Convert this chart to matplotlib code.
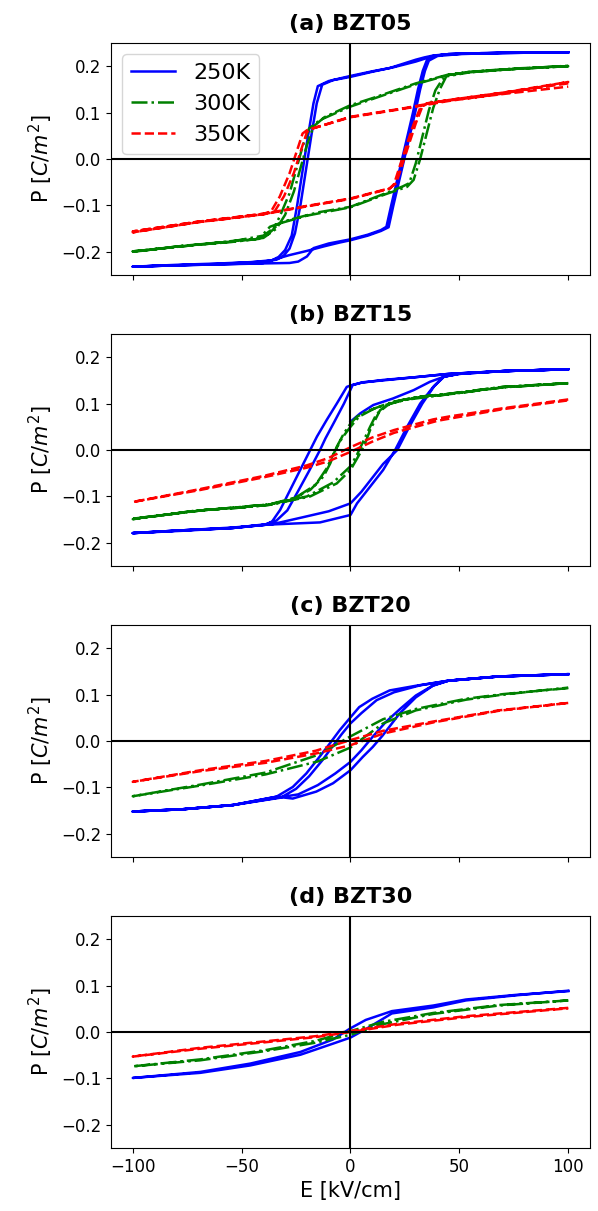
import matplotlib
matplotlib.use("Agg")
import matplotlib.pyplot as plt

# P-E hysteresis loops (E in kV/cm, P in C/m^2)
# each list runs the loop branch after branch (two cycles where they differ)

titles = ["(a) BZT05", "(b) BZT15", "(c) BZT20", "(d) BZT30"]
temps = ["250K", "300K", "350K"]

# ---- (a) BZT05 ----
E_a250 = [100, 80, 60, 45, 38, 34, 30, 22, 18, 10, 0, -10, -15, -17, -19.5, -22, -24.5, -27, -30, -33, -36, -45, -60, -80, -100,
          -80, -60, -40, -28, -24, -20, -17, -10, 0, 8, 14, 16.5, 18.7, 21.2, 23.7, 26.2, 28.7, 31, 33.2, 35, 38, 45, 60, 80, 100,
          80, 60, 45, 38, 30, 20, 10, 0, -8, -13, -15.5, -18, -20.5, -23, -25.5, -28, -31, -34, -40, -60, -80, -100,
          -80, -60, -40, -34, -28, -20, -12, -5, 0, 8, 14, 17.5, 19.7, 22.2, 24.7, 27.2, 29.7, 32, 34.2, 36, 40, 50, 70, 100]
P_a250 = [0.230, 0.229, 0.228, 0.226, 0.223, 0.219, 0.214, 0.202, 0.196, 0.189, 0.179, 0.168, 0.157, 0.12, 0.05, -0.025, -0.1, -0.165, -0.196, -0.211, -0.218, -0.222, -0.225, -0.228, -0.232,
          -0.229, -0.227, -0.225, -0.224, -0.221, -0.21, -0.192, -0.182, -0.173, -0.163, -0.153, -0.146, -0.1, -0.05, 0.0, 0.05, 0.1, 0.15, 0.19, 0.212, 0.222, 0.226, 0.228, 0.229, 0.23,
          0.229, 0.228, 0.226, 0.222, 0.21, 0.198, 0.188, 0.177, 0.17, 0.16, 0.12, 0.05, -0.025, -0.1, -0.16, -0.193, -0.21, -0.217, -0.221, -0.226, -0.229, -0.232,
          -0.229, -0.227, -0.224, -0.215, -0.207, -0.198, -0.188, -0.18, -0.175, -0.165, -0.155, -0.147, -0.1, -0.05, 0.0, 0.05, 0.1, 0.15, 0.19, 0.212, 0.222, 0.226, 0.229, 0.23]

E_a300 = [100, 75, 55, 45, 32, 13, 0, -14, -19, -22, -25, -28, -32.5, -35.5, -38, -42, -55, -77, -100,
          -77, -55, -42, -37, -28, -15, 0, 16, 24, 27, 30, 33, 36, 39, 42, 45, 55, 75, 100,
          75, 55, 45, 30, 10, 0, -12, -17, -20, -23, -26, -30, -34, -40, -55, -77, -100,
          -77, -55, -40, -32, -20, 0, 16, 26, 29, 32, 35, 38, 41, 44, 55, 75, 100]
P_a300 = [0.200, 0.194, 0.187, 0.181, 0.164, 0.134, 0.113, 0.084, 0.066, 0.027, -0.024, -0.074, -0.124, -0.152, -0.162, -0.172, -0.178, -0.187, -0.200,
          -0.187, -0.179, -0.172, -0.146, -0.131, -0.115, -0.103, -0.074, -0.059, -0.052, -0.009, 0.048, 0.105, 0.148, 0.17, 0.181, 0.188, 0.194, 0.2,
          0.195, 0.188, 0.182, 0.163, 0.131, 0.116, 0.09, 0.07, 0.03, -0.02, -0.07, -0.12, -0.15, -0.17, -0.177, -0.188, -0.199,
          -0.188, -0.178, -0.165, -0.138, -0.122, -0.104, -0.076, -0.06, -0.045, 0.0, 0.055, 0.11, 0.15, 0.178, 0.187, 0.194, 0.201]

E_a350 = [100, 70, 45, 24, 0, -20, -22, -25, -28, -32.5, -36.5, -40, -55, -70, -100,
          -70, -40, -20, 0, 18, 21, 24, 27, 30, 33, 35.5, 45, 70, 100,
          70, 45, 24, 0, -18, -20, -23, -26, -30.5, -35, -40, -55, -70, -100,
          -70, -40, -20, 0, 18, 20, 23, 26, 29, 32, 35, 45, 70, 100]
P_a350 = [0.163, 0.143, 0.127, 0.109, 0.091, 0.062, 0.055, 0.012, -0.031, -0.081, -0.113, -0.118, -0.127, -0.135, -0.156,
          -0.135, -0.118, -0.101, -0.085, -0.063, -0.052, -0.009, 0.034, 0.077, 0.113, 0.12, 0.127, 0.143, 0.166,
          0.141, 0.125, 0.108, 0.09, 0.065, 0.058, 0.015, -0.03, -0.08, -0.114, -0.119, -0.128, -0.136, -0.158,
          -0.136, -0.119, -0.102, -0.086, -0.064, -0.054, -0.01, 0.033, 0.075, 0.11, 0.12, 0.126, 0.14, 0.156]

# ---- (b) BZT15 ----
E_b250 = [0, 4.5, 10.5, 19.5, 29, 36.5, 43, 50, 70, 100,
          70, 45, 30, 15, 5.7, 0, -1.7, -6.3, -10.9, -15.4, -18.5, -23.1, -27.7, -32.3, -36, -39, -54, -77, -100,
          -77, -54, -39, -14, 0, 3, 9, 15, 20.5, 26, 32, 38, 42.7, 50, 70, 100,
          70, 45, 30, 15, 5, 1, -3, -7.5, -11.5, -14, -19, -24, -29, -34, -39, -54, -77, -100,
          -77, -54, -36, -22, -10, 0, 5, 10, 15, 21.5, 27, 33, 38.5, 43, 50, 70, 100]
P_b250 = [0.061, 0.079, 0.097, 0.111, 0.129, 0.147, 0.158, 0.164, 0.17, 0.174,
          0.17, 0.164, 0.157, 0.15, 0.146, 0.139, 0.136, 0.1, 0.065, 0.029, 0.0, -0.043, -0.086, -0.129, -0.154, -0.161, -0.168, -0.173, -0.179,
          -0.173, -0.168, -0.161, -0.156, -0.14, -0.115, -0.079, -0.043, 0.0, 0.05, 0.1, 0.136, 0.158, 0.164, 0.17, 0.174,
          0.17, 0.164, 0.157, 0.151, 0.145, 0.14, 0.1, 0.06, 0.025, 0.0, -0.045, -0.088, -0.13, -0.152, -0.16, -0.168, -0.174, -0.179,
          -0.173, -0.167, -0.16, -0.145, -0.132, -0.115, -0.09, -0.06, -0.03, 0.0, 0.05, 0.1, 0.138, 0.158, 0.165, 0.17, 0.174]

E_b300 = [100, 70, 45, 32, 24, 17, 9, 3, 0, -3, -6.3, -9.3, -12.4, -18.5, -27.7, -37, -50, -70, -100,
          -70, -50, -37, -18.5, -6.3, 0, 4.4, 6.7, 9, 13.6, 19.7, 32, 45, 70, 100,
          70, 45, 25, 12, 4, 0, -4, -8, -11, -16, -25, -37, -70, -100,
          -70, -37, -20, -8, 0, 3, 6, 9, 12, 18, 30, 45, 70, 100]
P_b300 = [0.144, 0.136, 0.121, 0.115, 0.108, 0.1, 0.086, 0.072, 0.057, 0.036, 0.007, -0.029, -0.057, -0.086, -0.108, -0.118, -0.124, -0.13, -0.149,
          -0.13, -0.124, -0.118, -0.1, -0.072, -0.043, -0.007, 0.014, 0.043, 0.086, 0.104, 0.115, 0.121, 0.136, 0.144,
          0.135, 0.12, 0.108, 0.092, 0.072, 0.05, 0.025, -0.01, -0.04, -0.075, -0.102, -0.117, -0.131, -0.148,
          -0.131, -0.117, -0.1, -0.07, -0.035, -0.01, 0.02, 0.05, 0.078, 0.1, 0.113, 0.12, 0.135, 0.144]

E_b350 = [100, 70, 45, 38, 20, 10, 0, -10, -20, -40, -70, -100,
          -70, -40, -20, -10, 0, 10, 20, 40, 70, 100]
P_b350 = [0.109, 0.09, 0.072, 0.066, 0.043, 0.027, 0.006, -0.017, -0.033, -0.056, -0.085, -0.112,
          -0.087, -0.059, -0.038, -0.024, -0.004, 0.018, 0.037, 0.063, 0.088, 0.107]

# ---- (c) BZT20 ----
E_c250 = [100, 68, 45, 30, 18, 10, 4, 0, -5, -9.6, -14.2, -20.3, -26.5, -34, -54, -77, -100,
          -77, -54, -34, -26.5, -15.7, -8, 0, 5.7, 10.2, 14.8, 22.5, 30, 37.8, 45, 68, 100,
          68, 45, 32, 20, 12, 5, 0, -4, -8, -13, -19, -25, -32, -54, -77, -100,
          -77, -54, -32, -24, -15, -7, 0, 5, 10, 16, 23, 30, 38, 45, 68, 100]
P_c250 = [0.144, 0.139, 0.13, 0.119, 0.109, 0.091, 0.073, 0.051, 0.023, -0.006, -0.034, -0.07, -0.099, -0.12, -0.138, -0.147, -0.152,
          -0.147, -0.138, -0.12, -0.124, -0.109, -0.091, -0.063, -0.034, -0.013, 0.012, 0.059, 0.094, 0.119, 0.13, 0.139, 0.144,
          0.139, 0.13, 0.12, 0.105, 0.088, 0.06, 0.038, 0.015, -0.01, -0.042, -0.076, -0.103, -0.122, -0.138, -0.147, -0.152,
          -0.147, -0.138, -0.121, -0.115, -0.095, -0.07, -0.045, -0.02, 0.008, 0.04, 0.07, 0.098, 0.12, 0.13, 0.139, 0.144]

E_c300 = [100, 70, 53, 30, 15, 0, -15, -39, -69, -100,
          -69, -39, -15, 0, 15, 30, 53, 70, 100]
P_c300 = [0.114, 0.101, 0.091, 0.069, 0.047, 0.01, -0.03, -0.068, -0.094, -0.119,
          -0.096, -0.072, -0.044, -0.014, 0.038, 0.066, 0.089, 0.1, 0.115]

E_c350 = [100, 68, 38, 15, 0, -16, -39, -69, -100,
          -69, -39, -16, 0, 15, 38, 68, 100]
P_c350 = [0.082, 0.066, 0.042, 0.022, 0.002, -0.021, -0.043, -0.063, -0.088,
          -0.065, -0.047, -0.027, -0.009, 0.016, 0.04, 0.065, 0.082]

# ---- (d) BZT30 ----
E_d250 = [100, 76, 53, 38, 19, 7, 0, -8, -23, -46, -69, -100,
          -69, -46, -23, -8, 0, 7, 19, 38, 53, 76, 100]
P_d250 = [0.088, 0.08, 0.07, 0.057, 0.045, 0.026, 0.008, -0.016, -0.043, -0.068, -0.086, -0.099,
          -0.088, -0.072, -0.049, -0.025, -0.012, 0.006, 0.04, 0.053, 0.068, 0.079, 0.089]

E_d300 = [100, 68, 38, 15, 0, -16, -39, -69, -100,
          -69, -39, -16, 0, 15, 38, 68, 100]
P_d300 = [0.068, 0.058, 0.041, 0.022, 0.002, -0.019, -0.039, -0.059, -0.074,
          -0.061, -0.041, -0.023, -0.006, 0.017, 0.039, 0.057, 0.068]

E_d350 = [100, 53, 22, 0, -16, -39, -69, -100,
          -69, -39, -16, 0, 22, 53, 100]
P_d350 = [0.052, 0.034, 0.018, 0.002, -0.009, -0.02, -0.034, -0.053,
          -0.036, -0.022, -0.011, 0.0, 0.016, 0.032, 0.051]

panels = [
    [(E_a250, P_a250), (E_a300, P_a300), (E_a350, P_a350)],
    [(E_b250, P_b250), (E_b300, P_b300), (E_b350, P_b350)],
    [(E_c250, P_c250), (E_c300, P_c300), (E_c350, P_c350)],
    [(E_d250, P_d250), (E_d300, P_d300), (E_d350, P_d350)],
]
colors = ["blue", "green", "red"]
styles = ["-", "-.", "--"]

fig, axes = plt.subplots(4, 1, sharex=True, figsize=(5.98, 12.11), dpi=100)
fig.subplots_adjust(left=0.1856, right=0.9866, top=0.9645, bottom=0.052, hspace=0.254)

for ax, curves, title in zip(axes, panels, titles):
    for (E, P), c, ls, t in zip(curves, colors, styles, temps):
        ax.plot(E, P, color=c, linestyle=ls, linewidth=1.8, label=t)
    ax.axhline(0, color="black", linewidth=1.5, zorder=3)
    ax.axvline(0, color="black", linewidth=1.5, zorder=3)
    ax.set_ylim(-0.25, 0.25)
    ax.set_yticks([-0.2, -0.1, 0.0, 0.1, 0.2])
    ax.set_title(title, fontsize=16, fontweight="bold", pad=9)
    ax.set_ylabel("P [$C/m^2$]", fontsize=15)
    ax.tick_params(labelsize=12)

axes[0].set_xlim(-110, 110)
axes[0].set_xticks([-100, -50, 0, 50, 100])
axes[0].legend(loc="upper left", fontsize=16)
axes[-1].set_xlabel("E [kV/cm]", fontsize=15)

fig.savefig("out.png", dpi=100)
